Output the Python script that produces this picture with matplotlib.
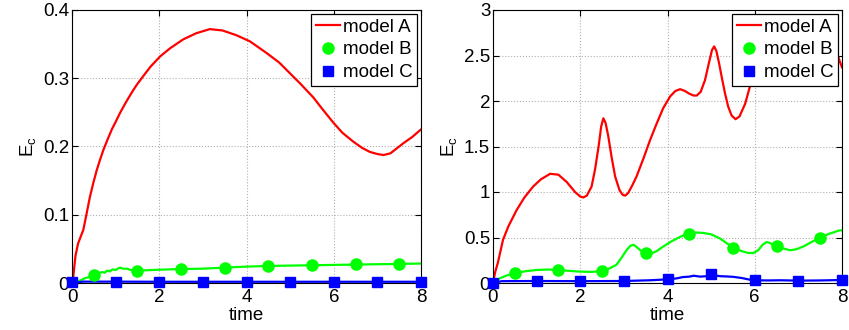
import matplotlib

matplotlib.use("Agg")

import matplotlib.pyplot as plt  # noqa: E402
from matplotlib.lines import Line2D  # noqa: E402
import matplotlib.ticker as mticker  # noqa: E402

plt.rcParams["font.family"] = ["Liberation Sans", "DejaVu Sans"]
plt.rcParams["mathtext.fontset"] = "custom"
plt.rcParams["mathtext.rm"] = "Liberation Sans"

# ---- left panel ----
left_a_t = [0, 0.03, 0.08, 0.14, 0.2, 0.26, 0.33, 0.41, 0.49, 0.57, 0.65, 0.72, 0.82,
            0.92, 1.0, 1.1, 1.22, 1.35, 1.48, 1.62, 1.8, 2.02, 2.25, 2.55, 2.85, 3.16,
            3.45, 3.77, 4.08, 4.46, 4.75, 5.0, 5.25, 5.53, 5.75, 5.99, 6.2, 6.45, 6.65,
            6.83, 7.0, 7.14, 7.3, 7.44, 7.6, 7.8, 8.0]
left_a_v = [0, 0.01, 0.04, 0.058, 0.068, 0.078, 0.10, 0.126, 0.147, 0.166, 0.182, 0.195,
            0.211, 0.226, 0.236, 0.249, 0.263, 0.277, 0.290, 0.302, 0.317, 0.332, 0.344,
            0.357, 0.366, 0.372, 0.370, 0.363, 0.354, 0.337, 0.323, 0.307, 0.291, 0.272,
            0.254, 0.235, 0.22, 0.207, 0.198, 0.192, 0.189, 0.1875, 0.19, 0.197, 0.205,
            0.214, 0.225]

left_b_t = [0, 0.1, 0.2, 0.3, 0.4, 0.49, 0.56, 0.64, 0.7, 0.75, 0.8, 0.87, 0.93, 1.0,
            1.05, 1.1, 1.17, 1.25, 1.35, 1.48, 2.0, 2.51, 3.0, 3.47, 4.0, 4.5, 5.0, 5.5,
            6.0, 6.5, 7.0, 7.5, 8.0]
left_b_v = [0, 0.002, 0.004, 0.007, 0.009, 0.0117, 0.013, 0.015, 0.016, 0.015, 0.018,
            0.017, 0.02, 0.019, 0.021, 0.0225, 0.021, 0.021, 0.019, 0.018, 0.0195,
            0.0205, 0.021, 0.0225, 0.024, 0.025, 0.0255, 0.026, 0.0265, 0.027, 0.0275,
            0.028, 0.0285]
left_b_mark_t = [0.5, 1.5, 2.5, 3.5, 4.5, 5.5, 6.5, 7.5]
left_b_mark_v = [0.0117, 0.018, 0.0205, 0.0225, 0.0252, 0.0262, 0.0272, 0.0278]

left_c_t = [0, 0.25, 0.5, 1, 2, 3, 4, 5, 6, 7, 8]
left_c_v = [0, 0.002, 0.002, 0.002, 0.0018, 0.0018, 0.0018, 0.0018, 0.0018, 0.0018, 0.0018]
left_c_mark_t = [0, 1, 2, 3, 4, 5, 6, 7, 8]
left_c_mark_v = [0.002, 0.002, 0.0018, 0.0018, 0.0018, 0.0018, 0.0018, 0.0018, 0.0018]

# ---- right panel ----
right_a_t = [0, 0.05, 0.11, 0.23, 0.35, 0.54, 0.72, 0.92, 1.1, 1.31, 1.5, 1.69, 1.88,
             2.0, 2.07, 2.15, 2.26, 2.34, 2.42, 2.48, 2.53, 2.58, 2.64, 2.72, 2.80, 2.9,
             2.97, 3.03, 3.1, 3.2, 3.29, 3.45, 3.6, 3.75, 3.9, 4.06, 4.18, 4.29, 4.4,
             4.5, 4.6, 4.67, 4.76, 4.86, 4.95, 5.02, 5.07, 5.12, 5.18, 5.24, 5.32, 5.39,
             5.47, 5.56, 5.65, 5.78, 5.93, 6.1, 6.3, 6.6, 6.9, 7.2, 7.5, 7.75, 7.9, 8.0]
right_a_v = [0, 0.12, 0.22, 0.475, 0.62, 0.80, 0.94, 1.06, 1.14, 1.20, 1.19, 1.11, 1.0,
             0.95, 0.94, 0.96, 1.06, 1.25, 1.50, 1.72, 1.81, 1.76, 1.62, 1.38, 1.17,
             1.02, 0.97, 0.96, 0.99, 1.08, 1.17, 1.37, 1.57, 1.75, 1.92, 2.05, 2.11,
             2.13, 2.11, 2.08, 2.06, 2.06, 2.1, 2.23, 2.42, 2.56, 2.60, 2.55, 2.42, 2.27,
             2.08, 1.94, 1.84, 1.80, 1.83, 1.97, 2.23, 2.5, 2.7, 2.85, 2.9, 2.85, 2.72,
             2.62, 2.5, 2.37]

right_b_t = [0, 0.15, 0.3, 0.5, 0.75, 1.0, 1.25, 1.5, 1.75, 2.0, 2.25, 2.5, 2.67, 2.83,
             2.95, 3.06, 3.15, 3.22, 3.28, 3.33, 3.4, 3.48, 3.6, 3.75, 3.9, 4.1, 4.3,
             4.49, 4.65, 4.82, 5.0, 5.2, 5.35, 5.5, 5.7, 5.85, 5.97, 6.08, 6.18, 6.27,
             6.35, 6.42, 6.5, 6.65, 6.81, 6.95, 7.11, 7.3, 7.5, 7.7, 7.92, 8.0]
right_b_v = [0, 0.05, 0.08, 0.107, 0.13, 0.143, 0.148, 0.143, 0.133, 0.125, 0.122, 0.13,
             0.16, 0.20, 0.28, 0.36, 0.41, 0.42, 0.40, 0.38, 0.35, 0.33, 0.32, 0.35,
             0.40, 0.46, 0.51, 0.54, 0.555, 0.55, 0.535, 0.49, 0.44, 0.39, 0.35, 0.33,
             0.33, 0.36, 0.42, 0.45, 0.44, 0.42, 0.41, 0.38, 0.36, 0.37, 0.40, 0.45,
             0.50, 0.54, 0.575, 0.58]
right_b_mark_t = [0.5, 1.5, 2.5, 3.5, 4.5, 5.5, 6.5, 7.5]
right_b_mark_v = [0.107, 0.143, 0.13, 0.33, 0.54, 0.39, 0.41, 0.50]

right_c_t = [0, 0.2, 1, 2, 3, 3.6, 4, 4.2, 4.35, 4.5, 4.6, 4.75, 4.9, 5.0, 5.2, 5.35,
             5.5, 5.7, 5.85, 6, 6.3, 6.6, 7, 7.5, 8]
right_c_v = [0, 0.02, 0.022, 0.02, 0.022, 0.03, 0.04, 0.05, 0.065, 0.07, 0.08, 0.07,
             0.075, 0.09, 0.075, 0.072, 0.068, 0.055, 0.04, 0.03, 0.028, 0.03, 0.026,
             0.028, 0.033]
right_c_mark_t = [0, 1, 2, 3, 4, 5, 6, 7, 8]
right_c_mark_v = [0, 0.022, 0.022, 0.022, 0.04, 0.099, 0.033, 0.026, 0.033]

labels = ["model A", "model B", "model C"]
RED, GREEN, BLUE = "#ff0000", "#00ff00", "#0000ff"


def draw_panel(ax, a, b, bm, c, cm, ymax, ystep):
    ax.plot(*a, color=RED, lw=1.6)
    ax.plot(*b, color=GREEN, lw=1.6)
    ax.plot(*bm, ls="none", marker="o", ms=8, color=GREEN, clip_on=False, zorder=3)
    ax.plot(*c, color=BLUE, lw=1.6)
    ax.plot(*cm, ls="none", marker="s", ms=6.5, color=BLUE, clip_on=False, zorder=3)
    ax.set_xlim(0, 8)
    ax.set_ylim(0, ymax)
    ax.set_xticks([0, 2, 4, 6, 8])
    ax.yaxis.set_major_locator(mticker.MultipleLocator(ystep))
    ax.yaxis.set_major_formatter(mticker.FuncFormatter(lambda v, _p: f"{v:g}"))
    ax.tick_params(direction="in", top=True, right=True, labelsize=13.5, length=4)
    ax.tick_params(axis="x", pad=4)
    ax.tick_params(axis="y", pad=2)
    ax.grid(True, color="#b0b0b0", ls=":", lw=0.8)
    ax.set_xlabel("time", fontsize=13.5, labelpad=1)
    ax.set_ylabel(r"E$_\mathregular{c}$", fontsize=13.5, labelpad=3)
    for s in ax.spines.values():
        s.set_linewidth(0.8)
    handles = [
        Line2D([], [], color=RED, lw=1.6),
        Line2D([], [], ls="none", marker="o", ms=8, color=GREEN),
        Line2D([], [], ls="none", marker="s", ms=6.5, color=BLUE),
    ]
    leg = ax.legend(handles, labels, loc="upper right", fontsize=13.5, fancybox=False,
                    framealpha=1, edgecolor="black", borderaxespad=0.2,
                    handlelength=1.3, handletextpad=0.15, borderpad=0.25,
                    labelspacing=0.3)
    leg.get_frame().set_linewidth(0.9)
    leg.set_zorder(5)


fig = plt.figure(figsize=(8.49, 3.3), dpi=100)
ax1 = fig.add_axes([72 / 849, 1 - 283 / 330, 349 / 849, 273 / 330])
ax2 = fig.add_axes([493 / 849, 1 - 283 / 330, 349 / 849, 273 / 330])

draw_panel(ax1, (left_a_t, left_a_v), (left_b_t, left_b_v),
           (left_b_mark_t, left_b_mark_v), (left_c_t, left_c_v),
           (left_c_mark_t, left_c_mark_v), 0.4, 0.1)
draw_panel(ax2, (right_a_t, right_a_v), (right_b_t, right_b_v),
           (right_b_mark_t, right_b_mark_v), (right_c_t, right_c_v),
           (right_c_mark_t, right_c_mark_v), 3, 0.5)

fig.savefig("out.png", dpi=100)
plt.close(fig)
